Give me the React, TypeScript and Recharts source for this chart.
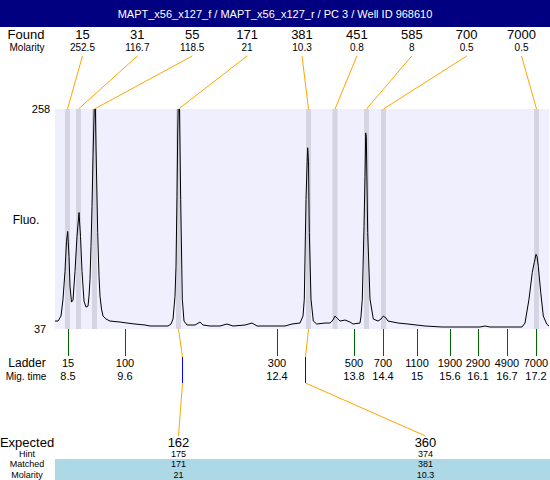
import React from "react";
import { ComposedChart, Line, XAxis, YAxis, ReferenceArea, Customized } from "recharts";

const title = "MAPT_x56_x127_f / MAPT_x56_x127_r / PC 3 / Well ID 968610";

// Found peaks
const foundSizes = ["15", "31", "55", "171", "381", "451", "585", "700", "7000"];
const foundMolarity = ["252.5", "116.7", "118.5", "21", "10.3", "0.8", "8", "0.5", "0.5"];
const foundScan = [12.5, 23.5, 39.5, 123.5, 253.5, 280, 311.5, 328.5, 481.5];

// Ladder
const ladderSizes = ["15", "100", "300", "500", "700", "1100", "1900", "2900", "4900", "7000"];
const ladderTimes = ["8.5", "9.6", "12.4", "13.8", "14.4", "15", "15.6", "16.1", "16.7", "17.2"];
const ladderScan = [13, 70, 222, 299, 328, 362, 395, 423, 452, 481];

// Expected fragments
const expectedSizes = ["162", "360"];
const expectedHint = ["175", "374"];
const expectedMatched = ["171", "381"];
const expectedMolarity = ["21", "10.3"];
const expectedScan = [127, 250];
const expectedPeakScan = [123.5, 253.5];

// Trace (scan position, fluorescence)
const traceScan = [0, 3, 6, 8, 10, 11.5, 12.7, 14, 15, 16.5, 18, 20, 22, 24, 25.5, 27, 29, 31, 33, 34, 35, 36, 37, 38, 39, 40, 41, 42.7, 44, 45, 46.5, 48, 51, 55, 65, 72, 80, 90, 95, 105, 113, 116, 118, 120, 121, 122, 122.7, 124, 125.7, 127.3, 129, 132, 140, 145, 148, 155, 165, 172, 178, 190, 197, 202, 215, 230, 237, 245, 248, 249.3, 251, 252.3, 252.7, 253.5, 254.3, 256, 258.3, 261.7, 270, 275, 278, 280, 282, 285, 290, 295, 298, 305, 306, 307.3, 309, 310, 310.7, 311.3, 312.7, 315, 318.3, 323, 326, 328.3, 331, 333, 343, 353, 370, 387, 425, 430, 435, 467, 470, 474, 477.3, 479.3, 481, 482, 483.3, 485.7, 488.3, 491.7, 494];
const traceFluo = [45, 45, 50, 67, 95, 125, 135, 110, 80, 64, 66, 95, 130, 154, 130, 95, 65, 59, 60, 70, 87, 120, 160, 210, 250, 285, 220, 134, 90, 70, 57, 50, 47, 45, 44, 43, 42, 41, 40, 40, 40, 42, 47, 70, 100, 170, 234, 295, 167, 67, 45, 41, 41, 44, 41, 40, 40, 42, 40, 41, 43, 40, 40, 40, 42, 43, 50, 67, 167, 210, 219, 205, 134, 67, 45, 42, 43, 43, 46, 50, 48, 45, 46, 44, 42, 43, 50, 67, 140, 190, 234, 230, 134, 67, 47, 45, 47, 50, 48, 45, 43, 42, 40, 39, 39, 40, 39, 39, 43, 67, 94, 104, 112, 110, 100, 74, 50, 42, 40];

const data = traceScan.map((s, i) => ({ scan: s, fluo: traceFluo[i] }));

const W = 550;
const H = 480;
const M = { top: 109, left: 55, right: 1, bottom: 151 };
const XD: [number, number] = [0, 494];
const YD: [number, number] = [37, 258];
const PW = W - M.left - M.right;
const PH = H - M.top - M.bottom;
const sx = (v: number) => M.left + ((v - XD[0]) / (XD[1] - XD[0])) * PW;
const sy = (v: number) => M.top + ((YD[1] - v) / (YD[1] - YD[0])) * PH;
const snap = (v: number) => Math.round(v) + 0.5;

const FONT = "'Liberation Sans', Arial, sans-serif";
const ORANGE = "#ffa500";
const ROW = { exp: 442.5, hint: 453.5, matched: 464, molarity: 474.5 };

const Annotations = () => {
  const plotL = M.left;
  const plotR = W - M.right;
  const foundSlot = PW / foundSizes.length;
  const expSlot = PW / expectedSizes.length;
  const yTop = sy(YD[1]);
  const yBot = sy(YD[0]);
  return (
    <g fontFamily={FONT}>
      {/* header */}
      <rect x={0} y={0} width={W} height={27} fill="#000080" />
      <text x={W / 2} y={14} fill="#fff" fontSize={11} textAnchor="middle" dominantBaseline="central">{title}</text>

      {/* found row */}
      <text x={26} y={34} fontSize={13} textAnchor="middle" dominantBaseline="central">Found</text>
      <text x={27} y={47} fontSize={10} textAnchor="middle" dominantBaseline="central">Molarity</text>
      {foundSizes.map((s, i) => {
        const cx = plotL + foundSlot * (i + 0.5);
        return (
          <g key={"f" + i}>
            <text x={cx} y={34} fontSize={13} textAnchor="middle" dominantBaseline="central">{s}</text>
            <text x={cx} y={47} fontSize={10} textAnchor="middle" dominantBaseline="central">{foundMolarity[i]}</text>
            <line x1={cx} y1={56} x2={sx(foundScan[i])} y2={yTop} stroke={ORANGE} strokeWidth={1} />
          </g>
        );
      })}

      {/* y labels */}
      <text x={41} y={yTop} fontSize={11} textAnchor="middle" dominantBaseline="central">258</text>
      <text x={40} y={yBot} fontSize={11} textAnchor="middle" dominantBaseline="central">37</text>
      <text x={26} y={220} fontSize={12} textAnchor="middle" dominantBaseline="central">Fluo.</text>

      {/* ladder */}
      <text x={27} y={363} fontSize={12} textAnchor="middle" dominantBaseline="central">Ladder</text>
      <text x={26} y={376} fontSize={10} textAnchor="middle" dominantBaseline="central">Mig. time</text>
      {ladderSizes.map((s, i) => {
        const x = sx(ladderScan[i]);
        return (
          <g key={"l" + i}>
            <line x1={snap(x)} y1={yBot} x2={snap(x)} y2={356} stroke="#006400" strokeWidth={1} shapeRendering="crispEdges" />
            <text x={x} y={363} fontSize={11} textAnchor="middle" dominantBaseline="central">{s}</text>
            <text x={x} y={376} fontSize={11} textAnchor="middle" dominantBaseline="central">{ladderTimes[i]}</text>
          </g>
        );
      })}

      {/* expected table */}
      <rect x={plotL} y={459} width={plotR - plotL + 1} height={21} fill="#add8e6" />
      <text x={27} y={ROW.exp} fontSize={13} textAnchor="middle" dominantBaseline="central">Expected</text>
      <text x={27} y={ROW.hint} fontSize={9} textAnchor="middle" dominantBaseline="central">Hint</text>
      <text x={27} y={ROW.matched} fontSize={9} textAnchor="middle" dominantBaseline="central">Matched</text>
      <text x={27} y={ROW.molarity} fontSize={9} textAnchor="middle" dominantBaseline="central">Molarity</text>
      {expectedSizes.map((s, i) => {
        const cx = plotL + expSlot * (i + 0.5);
        const ex = snap(sx(expectedScan[i]));
        const px = sx(expectedPeakScan[i]);
        return (
          <g key={"e" + i}>
            <line x1={px} y1={yBot} x2={ex} y2={357} stroke={ORANGE} strokeWidth={1} />
            <line x1={ex} y1={357} x2={ex} y2={383} stroke="#0000ff" strokeWidth={1} shapeRendering="crispEdges" />
            <line x1={ex} y1={383} x2={cx} y2={436} stroke={ORANGE} strokeWidth={1} />
            <text x={cx} y={ROW.exp} fontSize={13} textAnchor="middle" dominantBaseline="central">{s}</text>
            <text x={cx} y={ROW.hint} fontSize={9} textAnchor="middle" dominantBaseline="central">{expectedHint[i]}</text>
            <text x={cx} y={ROW.matched} fontSize={9} textAnchor="middle" dominantBaseline="central">{expectedMatched[i]}</text>
            <text x={cx} y={ROW.molarity} fontSize={9} textAnchor="middle" dominantBaseline="central">{expectedMolarity[i]}</text>
          </g>
        );
      })}
    </g>
  );
};

export default function App() {
  return (
    <div style={{ position: "absolute", left: 0, top: 0, width: W, height: H, background: "#fff" }}>
      <ComposedChart width={W} height={H} data={data} margin={M}>
        <XAxis dataKey="scan" type="number" domain={XD} hide allowDataOverflow />
        <YAxis type="number" domain={YD} hide allowDataOverflow />
        <ReferenceArea x1={XD[0]} x2={XD[1]} y1={YD[0]} y2={YD[1]} fill="#efeffd" fillOpacity={1} stroke="none" ifOverflow="hidden" />
        {foundScan.map((s, i) => (
          <ReferenceArea key={i} x1={s - 2.5} x2={s + 2.5} y1={YD[0]} y2={YD[1]} fill="#d4d4e2" fillOpacity={1} stroke="none" />
        ))}
        <Line dataKey="fluo" type="linear" stroke="#000" strokeWidth={1} dot={false} isAnimationActive={false} />
        <Customized component={Annotations} />
      </ComposedChart>
    </div>
  );
}
